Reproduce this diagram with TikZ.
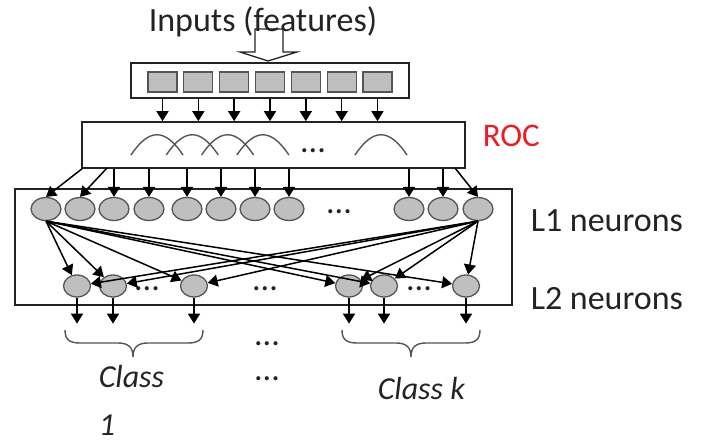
\documentclass[tikz,border=0pt]{standalone}
\usepackage{fontspec}
\setmainfont{Carlito}
\usetikzlibrary{arrows.meta,shapes.geometric}
\definecolor{cellgray}{RGB}{191,191,191}
\definecolor{rimgray}{RGB}{85,85,85}
\definecolor{rocred}{RGB}{237,28,36}
\definecolor{inkgray}{RGB}{35,35,35}
\begin{document}
\begin{tikzpicture}[x=1pt,y=-1pt,
  line width=1.5pt,
  arr/.style={-{Triangle[length=10pt,width=12pt]}},
  neuron/.style={ellipse,draw=rimgray,fill=cellgray,line width=1.3pt,minimum width=30pt,minimum height=23pt,inner sep=0},
  neuronb/.style={neuron,minimum width=27pt,minimum height=22pt},
  cell/.style={draw=rimgray,fill=cellgray,line width=1.3pt,minimum width=29pt,minimum height=20pt,inner sep=0},
  panel/.style={draw=inkgray,line width=1.6pt,inner sep=0},
  lbl/.style={inner sep=0,anchor=base west,text=inkgray,font=\fontsize{34}{40}\selectfont},
  clbl/.style={inner sep=0,anchor=base west,text=inkgray,align=left,font=\fontsize{32}{48}\selectfont\itshape},
  dotsn/.style={inner sep=0,anchor=base,text=inkgray,font=\fontsize{34}{40}\selectfont},
  bump/.style={draw=rimgray,line width=1.4pt},
  bracestyle/.style={draw=rimgray,line width=1.4pt},
]
\useasboundingbox (0,0) rectangle (716,443);

% labels
\node[lbl] (title) at (148,32) {Inputs (features)};
\node[lbl,text=rocred,font=\fontsize{33}{40}\selectfont] (roclbl) at (482,147) {ROC};
\node[lbl] (l1lbl) at (530,232) {L1 neurons};
\node[lbl] (l2lbl) at (530,310) {L2 neurons};

% hollow input arrow
\draw[draw=inkgray,line width=1.3pt] (255,29) -- (283,29) -- (283,52) -- (297,52) -- (268,61) -- (240,52) -- (255,52) -- cycle;

% boxes
\node[panel,minimum width=278pt,minimum height=35pt] (inbox) at (270,80.5) {};
\node[panel,minimum width=383pt,minimum height=46pt] (roc) at (273.5,145) {};
\node[panel,minimum width=497pt,minimum height=116pt] (l1box) at (263.5,247) {};

% input cells
\foreach \i in {1,...,7}{
  \node[cell] (sq\i) at ({162.5+35.83*(\i-1)},82) {};
  \draw[arr] (sq\i |- inbox.south) -- (sq\i |- roc.north);
}

% ROC bumps
\foreach \a in {131,166.3,201.6,236.9,355}{
  \draw[bump] (\a,155) .. controls (\a+18,128) and (\a+34,128) .. (\a+52,155);
}
\node[dotsn] (rocdots) at (313,152.5) {...};

% L1 neurons
\foreach \n/\x in {1/46,2/80,3/114,4/149,5/187,6/221,7/255,8/289,9/409,10/443,11/478}{
  \node[neuron] (a\n) at (\x,209) {};
}
\node[dotsn] (l1dots) at (339,214) {...};

% L2 neurons
\foreach \n/\x in {1/77,2/113,3/194,4/349,5/384,6/466}{
  \node[neuronb] (b\n) at (\x,286) {};
}
\node[dotsn] (l2dotsa) at (147,290.5) {...};
\node[dotsn] (l2dotsb) at (265,290.5) {...};
\node[dotsn] (l2dotsc) at (419,290.5) {...};

% ROC -> L1
\coordinate (r1) at (83,168);
\coordinate (r2) at (107,168);
\coordinate (r11) at (455,168);
\draw[arr] (r1) -- (a1.north);
\draw[arr] (r2) -- (a2.north);
\draw[arr] (r11) -- (a11.north);
\foreach \n in {3,...,10}{
  \draw[arr] (a\n |- roc.south) -- (a\n.north);
}

% L1 -> L2
\foreach \m in {1,...,6}{
  \draw[arr] (a1.south) -- (b\m);
  \draw[arr] (a11.south) -- (b\m);
}

% outputs
\foreach \m in {1,...,6}{
  \coordinate (o\m) at ([yshift=-26pt]b\m.south);
  \draw[arr] (b\m.south) -- (o\m);
}

% braces
\draw[bracestyle] (65,330) .. controls (65,340) and (70,343) .. (80,343) -- (118,343) .. controls (128,343) and (133,347) .. (133,357) .. controls (133,347) and (138,343) .. (148,343) -- (188,343) .. controls (198,343) and (203,340) .. (203,330);
\draw[bracestyle] (342,330) .. controls (342,340) and (347,343) .. (357,343) -- (396,343) .. controls (406,343) and (411,347) .. (411,357) .. controls (411,347) and (416,343) .. (426,343) -- (465,343) .. controls (475,343) and (480,340) .. (480,330);

\node[dotsn] (bdotsa) at (267,345.5) {...};
\node[dotsn] (bdotsb) at (267,380.5) {...};

\node[clbl] (class1) at (98,436) {Class\\1};
\node[clbl] (classk) at (377,400) {Class k};
\end{tikzpicture}
\end{document}
